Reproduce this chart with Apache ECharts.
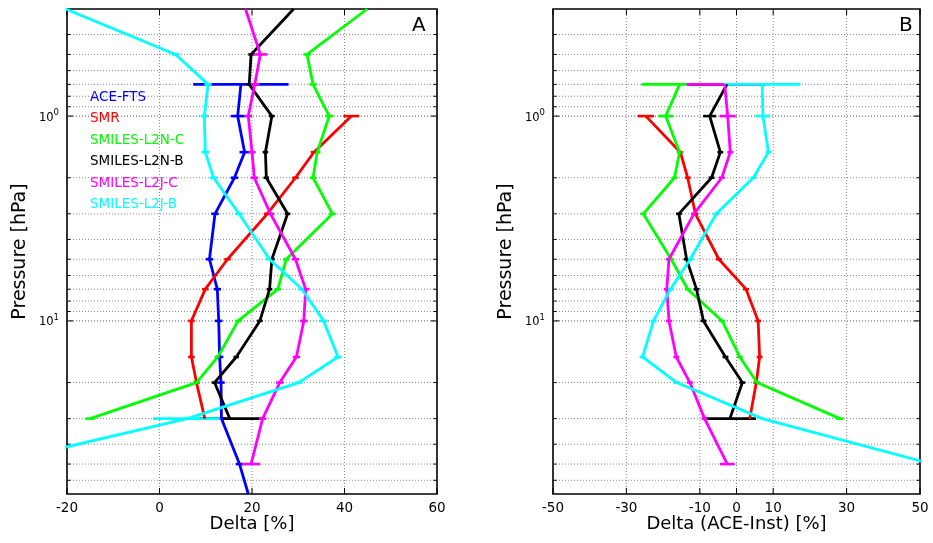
<!DOCTYPE html>
<html>
<head>
<meta charset="utf-8">
<script src="https://cdn.jsdelivr.net/npm/echarts@6/dist/echarts.min.js"></script>
<style>
  html, body { margin: 0; padding: 0; background: #ffffff; }
  #chart { width: 933px; height: 543px; }
</style>
</head>
<body>
<div id="chart"></div>
<script>
// Pressure levels [hPa] shared by every profile
const pressure = [0.3, 0.5, 0.7, 1, 1.5, 2, 3, 5, 7, 10, 15, 20, 30, 50, 70];

const names = ['ACE-FTS', 'SMR', 'SMILES-L2N-C', 'SMILES-L2N-B', 'SMILES-L2J-C', 'SMILES-L2J-B'];

// Panel A: relative difference per instrument [%]
const aceA   = [null, null, 17.6, 16.9, 18.4, 16.2, 12.0, 10.8, 12.5, 12.8, 13.0, 13.3, 13.4, 17.3, 19.2];
const smrA   = [null, null, null, 41.5, 33.4, 29.4, 23.3, 14.7, 9.9, 6.9, 6.9, 8.0, 9.8, null, null];
const l2ncA  = [44.9, 31.9, 33.2, 36.7, 34.1, 33.2, 37.4, 27.4, 25.6, 17.0, 12.6, 8.0, -15.0, null, null];
const l2nbA  = [29.0, 19.8, 19.4, 24.3, 22.9, 23.1, 27.7, 24.3, 23.8, 21.7, 16.6, 11.9, 15.2, null, null];
const l2jcA  = [18.6, 21.8, 20.6, 19.2, 20.0, 20.5, 24.0, 29.4, 31.6, 31.2, 29.6, 26.0, 22.3, 19.8, null];
const l2jbA  = [-20.3, 3.5, 10.5, 9.7, 9.9, 11.7, 17.2, 23.8, 30.8, 35.5, 38.6, 30.1, 6.0, -36.0, null];

// Panel A: error bar half widths [%]
const aceErrA  = [null, null, 10.3, 1.5, 1.1, 0.8, 0.8, 0.8, 0.8, 0.8, 0.8, 0.8, 0.8, 0.8, null];
const smrErrA  = [null, null, null, 1.7, 0.7, 0.7, 0.7, 0.7, 0.7, 0.7, 0.7, 0.7, 0.6, null, null];
const l2ncErrA = [null, 0.8, 0.8, 0.8, 0.7, 0.7, 0.7, 0.7, 0.7, 0.7, 0.7, 0.7, 1.0, null, null];
const l2nbErrA = [null, 0.6, 0.6, 0.6, 0.6, 0.6, 0.6, 0.6, 0.6, 0.6, 0.6, 0.6, 6.8, null, null];
const l2jcErrA = [null, 1.5, 1.0, 0.8, 0.8, 0.8, 0.8, 0.8, 0.8, 0.8, 0.8, 0.8, 0.8, 2.0, null];
const l2jbErrA = [null, 0.8, 0.8, 0.8, 0.8, 0.8, 0.8, 0.8, 0.8, 0.8, 0.8, 0.8, 7.4, null, null];

// Panel B: ACE-FTS minus instrument [%]
const smrB   = [null, null, null, -24.7, -15.3, -13.3, -11.2, -4.8, 2.6, 5.9, 6.3, 5.4, 3.6, null, null];
const l2ncB  = [null, null, -15.5, -19.3, -15.5, -16.9, -25.4, -17.8, -13.3, -3.9, 0.9, 5.6, 28.2, null, null];
const l2nbB  = [null, null, -2.6, -7.3, -4.4, -6.8, -15.7, -13.6, -10.9, -9.0, -3.0, 1.6, -1.8, null, null];
const l2jcB  = [null, null, -3.2, -2.4, -1.7, -4.0, -11.6, -18.4, -19.0, -18.4, -16.4, -12.7, -8.7, -2.5, null];
const l2jbB  = [null, null, 7.0, 7.2, 8.7, 4.6, -5.5, -12.6, -18.0, -22.6, -25.6, -16.3, 7.0, 53.3, null];

// Panel B: error bar half widths [%]
const smrErrB  = [null, null, null, 2.2, 0.8, 0.8, 0.8, 0.8, 0.8, 0.8, 0.8, 0.8, 0.8, null, null];
const l2ncErrB = [null, null, 10.4, 2.0, 0.8, 0.8, 0.8, 0.8, 0.8, 0.8, 0.8, 0.8, 1.0, null, null];
const l2nbErrB = [null, null, 10.4, 1.8, 0.8, 0.8, 0.8, 0.8, 0.8, 0.8, 0.8, 0.8, 7.1, null, null];
const l2jcErrB = [null, null, 10.4, 2.2, 0.8, 0.8, 0.8, 0.8, 0.8, 0.8, 0.8, 0.8, 0.8, 2.0, null];
const l2jbErrB = [null, null, 10.4, 2.0, 0.8, 0.8, 0.8, 0.8, 0.8, 0.8, 0.8, 0.8, null, null, null];

// Axis ranges and tick values
const pMin = 0.3, pMax = 70;
const xTicksA = [-20, 0, 20, 40, 60];
const xTicksB = [-50, -30, -10, 0, 10, 30, 50];
const pGrid = [0.4, 0.5, 0.6, 0.7, 0.8, 0.9, 1, 2, 3, 4, 5, 6, 7, 8, 9, 10, 20, 30, 40, 50, 60];

const colors = ['#0000ff', '#ff0000', '#00ff00', '#000000', '#ff00ff', '#00ffff'];
const FONT = 'DejaVu Sans';

const panelA = [
  { name: names[0], vals: aceA,  err: aceErrA,  color: colors[0] },
  { name: names[1], vals: smrA,  err: smrErrA,  color: colors[1] },
  { name: names[2], vals: l2ncA, err: l2ncErrA, color: colors[2] },
  { name: names[3], vals: l2nbA, err: l2nbErrA, color: colors[3] },
  { name: names[4], vals: l2jcA, err: l2jcErrA, color: colors[4] },
  { name: names[5], vals: l2jbA, err: l2jbErrA, color: colors[5] }
];
const panelB = [
  { name: names[1], vals: smrB,  err: smrErrB,  color: colors[1] },
  { name: names[2], vals: l2ncB, err: l2ncErrB, color: colors[2] },
  { name: names[3], vals: l2nbB, err: l2nbErrB, color: colors[3] },
  { name: names[4], vals: l2jcB, err: l2jcErrB, color: colors[4] },
  { name: names[5], vals: l2jbB, err: l2jbErrB, color: colors[5] }
];

function isDecade(v) {
  const e = Math.log10(v);
  return Math.abs(e - Math.round(e)) < 1e-6;
}

// Dotted horizontal grid lines plus inward ticks on both sides of the box
function hGridSeries(idx, xMin, xMax) {
  return {
    type: 'custom', xAxisIndex: idx, yAxisIndex: idx, silent: true, z: 1,
    data: pGrid.map(p => [p]),
    encode: { y: 0 },
    renderItem: function (params, api) {
      const p = api.value(0);
      const l = api.coord([xMin, p]);
      const r = api.coord([xMax, p]);
      const major = isDecade(p);
      const tl = major ? 6 : 3.5;
      return {
        type: 'group',
        children: [
          { type: 'line', shape: { x1: l[0], y1: l[1], x2: r[0], y2: r[1] },
            style: { stroke: major ? '#555' : '#888', lineWidth: 1, lineDash: [1, 2] } },
          { type: 'line', shape: { x1: l[0], y1: l[1], x2: l[0] + tl, y2: l[1] },
            style: { stroke: '#000', lineWidth: 1 } },
          { type: 'line', shape: { x1: r[0], y1: r[1], x2: r[0] - tl, y2: r[1] },
            style: { stroke: '#000', lineWidth: 1 } }
        ]
      };
    }
  };
}

// Dotted vertical grid lines plus inward ticks at top and bottom
function vGridSeries(idx, ticks, xMin, xMax) {
  return {
    type: 'custom', xAxisIndex: idx, yAxisIndex: idx, silent: true, z: 1,
    data: ticks.map(v => [v]),
    encode: { x: 0 },
    renderItem: function (params, api) {
      const v = api.value(0);
      const t = api.coord([v, pMin]);
      const b = api.coord([v, pMax]);
      const kids = [
        { type: 'line', shape: { x1: t[0], y1: t[1], x2: t[0], y2: t[1] + 6 },
          style: { stroke: '#000', lineWidth: 1 } },
        { type: 'line', shape: { x1: b[0], y1: b[1], x2: b[0], y2: b[1] - 6 },
          style: { stroke: '#000', lineWidth: 1 } }
      ];
      if (v !== xMin && v !== xMax) {
        kids.unshift({ type: 'line', shape: { x1: t[0], y1: t[1], x2: b[0], y2: b[1] },
          style: { stroke: '#888', lineWidth: 1, lineDash: [1, 2] } });
      }
      return { type: 'group', children: kids };
    }
  };
}

function lineSeries(idx, s) {
  const data = [];
  pressure.forEach((p, i) => { if (s.vals[i] !== null) data.push([s.vals[i], p]); });
  return {
    name: s.name, type: 'line', xAxisIndex: idx, yAxisIndex: idx,
    data: data, symbol: 'none', clip: true, z: 3,
    lineStyle: { color: s.color, width: 2.8 },
    itemStyle: { color: s.color },
    animation: false
  };
}

// Horizontal error bars centred on each profile value
function errSeries(idx, s) {
  const data = [];
  pressure.forEach((p, i) => {
    if (s.vals[i] !== null && s.err[i] !== null) data.push([s.vals[i], p, s.err[i]]);
  });
  return {
    type: 'custom', xAxisIndex: idx, yAxisIndex: idx, silent: true, clip: true, z: 3,
    data: data,
    encode: { x: 0, y: 1 },
    renderItem: function (params, api) {
      const v = api.value(0), p = api.value(1), e = api.value(2);
      const a = api.coord([v - e, p]);
      const b = api.coord([v + e, p]);
      return { type: 'line', shape: { x1: a[0], y1: a[1], x2: b[0], y2: b[1] },
        style: { stroke: s.color, lineWidth: 2.6 } };
    }
  };
}

const yLabel = {
  margin: 8,
  formatter: function (v) {
    if (!isDecade(v)) return '';
    return '{b|10}{s|' + Math.round(Math.log10(v)) + '}';
  },
  rich: {
    b: { fontFamily: FONT, fontSize: 11.5, color: '#000', lineHeight: 15, verticalAlign: 'bottom' },
    s: { fontFamily: FONT, fontSize: 8.5, color: '#000', lineHeight: 15, verticalAlign: 'top' }
  }
};

function yAxis(idx) {
  return {
    gridIndex: idx, type: 'log', logBase: 10, min: pMin, max: pMax, inverse: true,
    name: 'Pressure [hPa]', nameLocation: 'middle', nameGap: 37, nameMoveOverlap: false,
    nameTextStyle: { fontFamily: FONT, fontSize: 19, color: '#000' },
    axisLine: { show: false }, axisTick: { show: false }, splitLine: { show: false },
    axisLabel: yLabel
  };
}

const xLabelStyle = { fontFamily: FONT, fontSize: 13.5, color: '#000', margin: 7 };

const series = [];
series.push(hGridSeries(0, -20, 60), vGridSeries(0, xTicksA, -20, 60));
series.push(hGridSeries(1, -50, 50), vGridSeries(1, xTicksB, -50, 50));
panelA.forEach(s => { series.push(lineSeries(0, s), errSeries(0, s)); });
panelB.forEach(s => { series.push(lineSeries(1, s), errSeries(1, s)); });

const option = {
  animation: false,
  backgroundColor: '#ffffff',
  grid: [
    { left: 67, top: 9, width: 370, height: 485, show: true, borderColor: '#000', borderWidth: 1.6, backgroundColor: 'transparent', containLabel: false },
    { left: 553, top: 9, width: 367, height: 485, show: true, borderColor: '#000', borderWidth: 1.6, backgroundColor: 'transparent', containLabel: false }
  ],
  title: [
    { text: 'A', left: 412, top: 16, padding: 0, textStyle: { fontFamily: FONT, fontSize: 20, fontWeight: 'normal', color: '#000' } },
    { text: 'B', left: 899, top: 16, padding: 0, textStyle: { fontFamily: FONT, fontSize: 20, fontWeight: 'normal', color: '#000' } }
  ],
  legend: {
    orient: 'vertical', left: 85, top: 90, icon: 'none', itemWidth: 0, itemHeight: 14, itemGap: 7.5,
    selectedMode: false, padding: 0,
    textStyle: { fontFamily: FONT, fontSize: 13.5 },
    data: names.map((n, i) => ({ name: n, textStyle: { color: colors[i] } }))
  },
  xAxis: [
    { gridIndex: 0, type: 'value', min: -20, max: 60, interval: 20,
      name: 'Delta [%]', nameLocation: 'middle', nameGap: 21, nameMoveOverlap: false,
      nameTextStyle: { fontFamily: FONT, fontSize: 18, color: '#000' },
      axisLine: { show: false }, axisTick: { show: false }, splitLine: { show: false },
      axisLabel: xLabelStyle },
    { gridIndex: 1, type: 'value', min: -50, max: 50, interval: 10,
      name: 'Delta (ACE-Inst) [%]', nameLocation: 'middle', nameGap: 21, nameMoveOverlap: false,
      nameTextStyle: { fontFamily: FONT, fontSize: 18, color: '#000' },
      axisLine: { show: false }, axisTick: { show: false }, splitLine: { show: false },
      axisLabel: Object.assign({}, xLabelStyle, {
        formatter: function (v) { return xTicksB.indexOf(v) >= 0 ? String(v) : ''; }
      }) }
  ],
  yAxis: [yAxis(0), yAxis(1)],
  series: series
};

const chart = echarts.init(document.getElementById('chart'));
chart.setOption(option);
</script>
</body>
</html>
